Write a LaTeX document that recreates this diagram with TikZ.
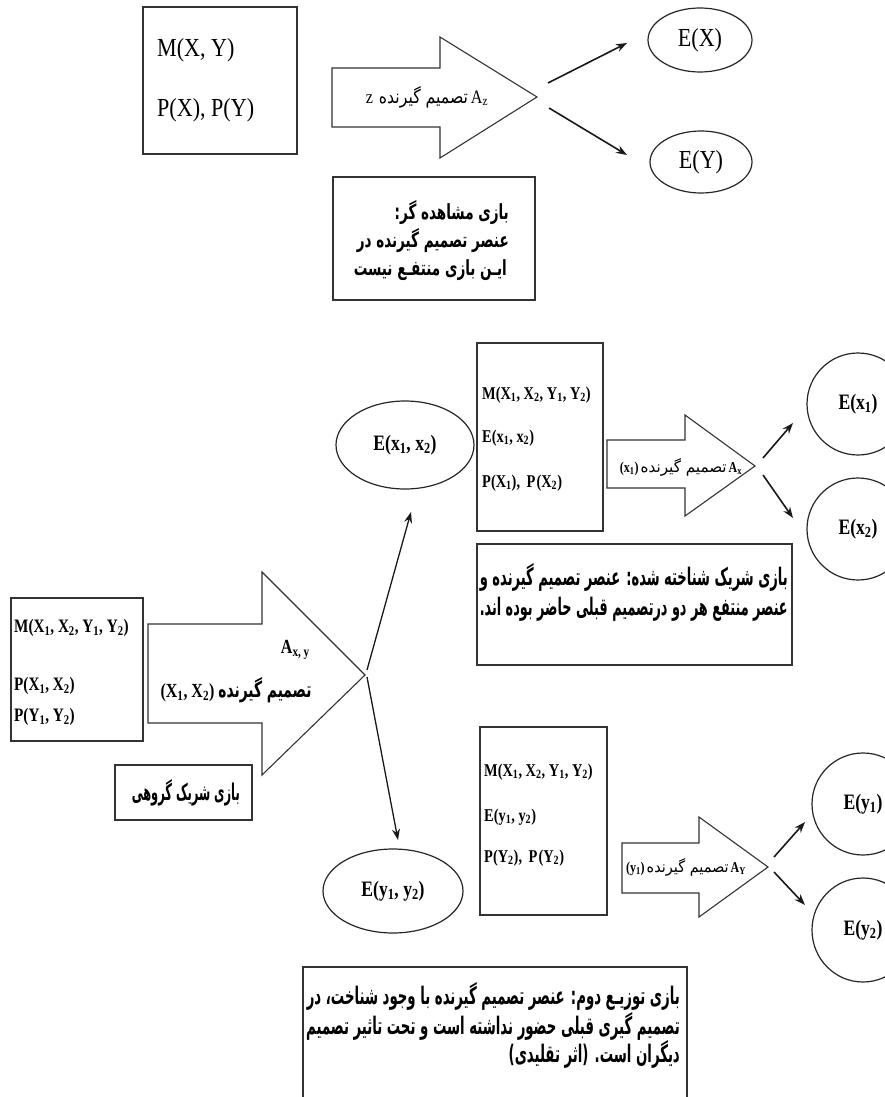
\documentclass[tikz,border=0pt]{standalone}
\usepackage{fontspec}
\usepackage{graphicx}
\usetikzlibrary{shapes.geometric,arrows.meta}
\TeXXeTstate=1
\setmainfont{Liberation Serif}
\newfontfamily\arabicfont[Script=Arabic]{DejaVu Sans}
\newfontfamily\tnr[FakeStretch=0.85]{Liberation Serif}
\newfontfamily\tnrb[FakeStretch=0.8]{Liberation Serif Bold}
\newcommand\sbs[1]{\textsubscript{#1}}
% width, height above baseline, text
\newcommand\fa[3]{\resizebox{#1pt}{#2pt}{\fontsize{16}{18}\arabicfont\vphantom{گا}#3}}
\newcommand\fab[3]{\resizebox{#1pt}{#2pt}{\fontsize{16}{18}\arabicfont\bfseries\vphantom{گا}#3}}
% bold line of fixed height
\newcommand\fah[2]{\resizebox{!}{#1pt}{\fontsize{16}{18}\arabicfont\bfseries\vphantom{گا}#2}}
\newsavebox\boxA
\newsavebox\boxB
\begin{document}
\sbox\boxA{\fah{19}{\beginR عنصر تصمیم گیرنده در\endR}}%
\pgfmathsetmacro\sxa{152/\the\wd\boxA}%
\sbox\boxB{\fah{22}{\beginR بازی توزیـع دوم: عنصر تصمیم گیرنده با وجود شناخت، در\endR}}%
\pgfmathsetmacro\sxb{373/\the\wd\boxB}%
\begin{tikzpicture}[x=1pt,y=-1pt,
  box/.style={draw=black!80, line width=1.4pt, inner sep=0pt},
  ell/.style={ellipse, draw=black!85, line width=1.2pt, inner sep=0pt},
  bigarrow/.style={draw=black!80, line width=1.1pt, line join=miter},
  conn/.style={draw=black!90, line width=1.6pt, -{Stealth[length=11pt,width=8pt]}},
  lt/.style={inner sep=0pt, anchor=west},
  ft/.style={inner sep=0pt},
  fl/.style={inner sep=0pt, anchor=base east}]
\useasboundingbox (0,0) rectangle (885,1097);
\clip (0,0) rectangle (885,1097);

% ---------- top part ----------
\node[box, minimum width=154pt, minimum height=147pt] (b1) at (220,80.5) {};
\node[lt] (b1a) at (157,50) {\fontsize{26}{30}\tnr M(X, Y)};
\node[lt] (b1b) at (157,110) {\fontsize{26}{30}\tnr P(X), P(Y)};

\draw[bigarrow] (332,68) -- (440,68) -- (440,37) -- (537,97) -- (440,158) -- (440,127) -- (332,127) -- cycle;
\coordinate (t1) at (537,97);
\node[ft] (a1t) at (427,97) {\fontsize{19}{20}\tnr z\hspace{6pt}\fa{89}{17}{\beginR تصمیم گیرنده\endR}\hspace{3pt}A\sbs{z}};

\node[ell, minimum width=104pt, minimum height=64pt] (EX) at (700,40) {\fontsize{26}{30}\tnr E(X)};
\node[ell, minimum width=102pt, minimum height=62pt] (EY) at (701,162) {\fontsize{26}{30}\tnr E(Y)};
\coordinate (s1a) at (548,83);  \coordinate (e1a) at (627,43);
\coordinate (s1b) at (549,108); \coordinate (e1b) at (627,155);
\draw[conn] (s1a) -- (e1a);
\draw[conn] (s1b) -- (e1b);

\node[box, minimum width=202pt, minimum height=123pt] (b2) at (434,238.5) {};
\node[fl] (b2b) at (509,247) {\scalebox{\sxa}[1]{\usebox\boxA}};
\node[fl] (b2a) at (509,219) {\scalebox{\sxa}[1]{\fah{19}{\beginR بازی مشاهده گر:\endR}}};
\node[fl] (b2c) at (507,275) {\scalebox{\sxa}[1]{\fah{19}{\beginR ایـن بازی منتفـع نیست\endR}}};

% ---------- middle part ----------
\node[ell, minimum width=138pt, minimum height=88pt] (Ex12) at (405,445) {\fontsize{22}{26}\tnrb E(x\sbs1, x\sbs2)};

\node[box, minimum width=126pt, minimum height=188pt] (b3) at (540,437) {};
\node[lt] (b3a) at (482,395) {\fontsize{18}{20}\tnrb M(X\sbs1, X\sbs2, Y\sbs1, Y\sbs2)};
\node[lt] (b3b) at (482,438) {\fontsize{18}{20}\tnrb E(x\sbs1, x\sbs2)};
\node[lt] (b3c) at (482,483) {\fontsize{18}{20}\tnrb P(X\sbs1),\hspace{3pt} P\hspace{1pt}(X\sbs2)};

\draw[bigarrow] (607,440) -- (685,440) -- (685,415) -- (755,466) -- (685,516) -- (685,488) -- (607,488) -- cycle;
\node[ft] (a2t) at (681,467) {\fontsize{15}{17}\tnrb (x\sbs1)\hspace{2pt}\fa{86}{14}{\beginR تصمیم گیرنده\endR}\hspace{2pt}A\sbs{x}};

\node[ell, minimum width=102pt, minimum height=102pt] (Ex1) at (858,404) {\fontsize{22}{26}\tnrb E(x\sbs1)};
\node[ell, minimum width=102pt, minimum height=102pt] (Ex2) at (858,529) {\fontsize{22}{26}\tnrb E(x\sbs2)};
\coordinate (s2a) at (763,458); \coordinate (e2a) at (793,423);
\coordinate (s2b) at (763,475); \coordinate (e2b) at (793,518);
\draw[conn] (s2a) -- (e2a);
\draw[conn] (s2b) -- (e2b);

\node[box, minimum width=315pt, minimum height=121pt] (b4) at (634.5,604.5) {};
\node[fl] (b4a) at (788,585) {\fab{308}{22}{\beginR بازی شریک شناخته شده: عنصر تصمیم گیرنده و\endR}};
\node[fl] (b4b) at (788,615) {\fab{308}{22}{\beginR عنصر منتفع هر دو درتصمیم قبلی حاضر بوده اند.\endR}};

% ---------- left part ----------
\node[box, minimum width=132pt, minimum height=143pt] (b5) at (77,669.5) {};
\node[lt] (b5a) at (14,628) {\fontsize{19}{21}\tnrb M(X\sbs1, X\sbs2, Y\sbs1, Y\sbs2)};
\node[lt] (b5b) at (14,686) {\fontsize{19}{21}\tnrb P(X\sbs1, X\sbs2)};
\node[lt] (b5c) at (14,717) {\fontsize{19}{21}\tnrb P(Y\sbs1, Y\sbs2)};

\draw[bigarrow] (148,624) -- (262,624) -- (262,572) -- (365,675) -- (262,775) -- (262,723) -- (148,723) -- cycle;
\node[ft, anchor=east] (a3a) at (310,650) {\fontsize{20}{22}\tnrb A\sbs{x, y}};
\node[ft] (a3b) at (236,690) {\fontsize{20}{22}\tnrb (X\sbs1, X\sbs2)\hspace{4pt}\fab{93}{20}{\beginR تصمیم گیرنده\endR}};

\coordinate (s3a) at (367,670); \coordinate (e3a) at (411,512);
\coordinate (s3b) at (367,677); \coordinate (e3b) at (398,840);
\draw[conn, line width=1.3pt] (s3a) -- (e3a);
\draw[conn, line width=1.3pt] (s3b) -- (e3b);

\node[box, minimum width=137pt, minimum height=55pt] (b6) at (183.5,792.5) {};
\node[fl] (b6t) at (240,800) {\fab{108}{21}{\beginR بازی شریک گروهی\endR}};

% ---------- bottom part ----------
\node[box, minimum width=127pt, minimum height=188pt] (b7) at (543.5,821) {};
\node[lt] (b7a) at (484,772) {\fontsize{18}{20}\tnrb M(X\sbs1, X\sbs2, Y\sbs1, Y\sbs2)};
\node[lt] (b7b) at (484,817) {\fontsize{18}{20}\tnrb E(y\sbs1, y\sbs2)};
\node[lt] (b7c) at (484,858) {\fontsize{18}{20}\tnrb P(Y\sbs2),\hspace{3pt} P\hspace{1pt}(Y\sbs2)};

\draw[bigarrow] (622,843) -- (699,843) -- (699,817) -- (768,867) -- (699,917) -- (699,893) -- (622,893) -- cycle;
\node[ft] (a4t) at (686,867) {\fontsize{15}{17}\tnrb (y\sbs1)\hspace{2pt}\fa{82}{14}{\beginR تصمیم گیرنده\endR}\hspace{2pt}A\sbs{Y}};

\node[ell, minimum width=102pt, minimum height=102pt] (Ey1) at (863,804) {\fontsize{22}{26}\tnrb E(y\sbs1)};
\node[ell, minimum width=102pt, minimum height=104pt] (Ey2) at (863,930) {\fontsize{22}{26}\tnrb E(y\sbs2)};
\coordinate (s4a) at (774,857); \coordinate (e4a) at (805,822);
\coordinate (s4b) at (774,872); \coordinate (e4b) at (805,905);
\draw[conn] (s4a) -- (e4a);
\draw[conn] (s4b) -- (e4b);

\node[ell, minimum width=140pt, minimum height=84pt] (Ey12) at (393,891) {\fontsize{22}{26}\tnrb E(y\sbs1, y\sbs2)};

\node[box, minimum width=384pt, minimum height=150pt] (b8) at (495,1042) {};
\node[fl] (b8a) at (680,1004) {\scalebox{\sxb}[1]{\usebox\boxB}};
\node[fl] (b8b) at (680,1034) {\scalebox{\sxb}[1]{\fah{22}{\beginR تصمیم گیری قبلی حضور نداشته است و تحت تاثیر تصمیم\endR}}};
\node[fl] (b8c) at (680,1062) {\scalebox{\sxb}[1]{\fah{22}{\beginR دیگران است. (اثر تقلیدی)\endR}}};
\end{tikzpicture}
\end{document}
